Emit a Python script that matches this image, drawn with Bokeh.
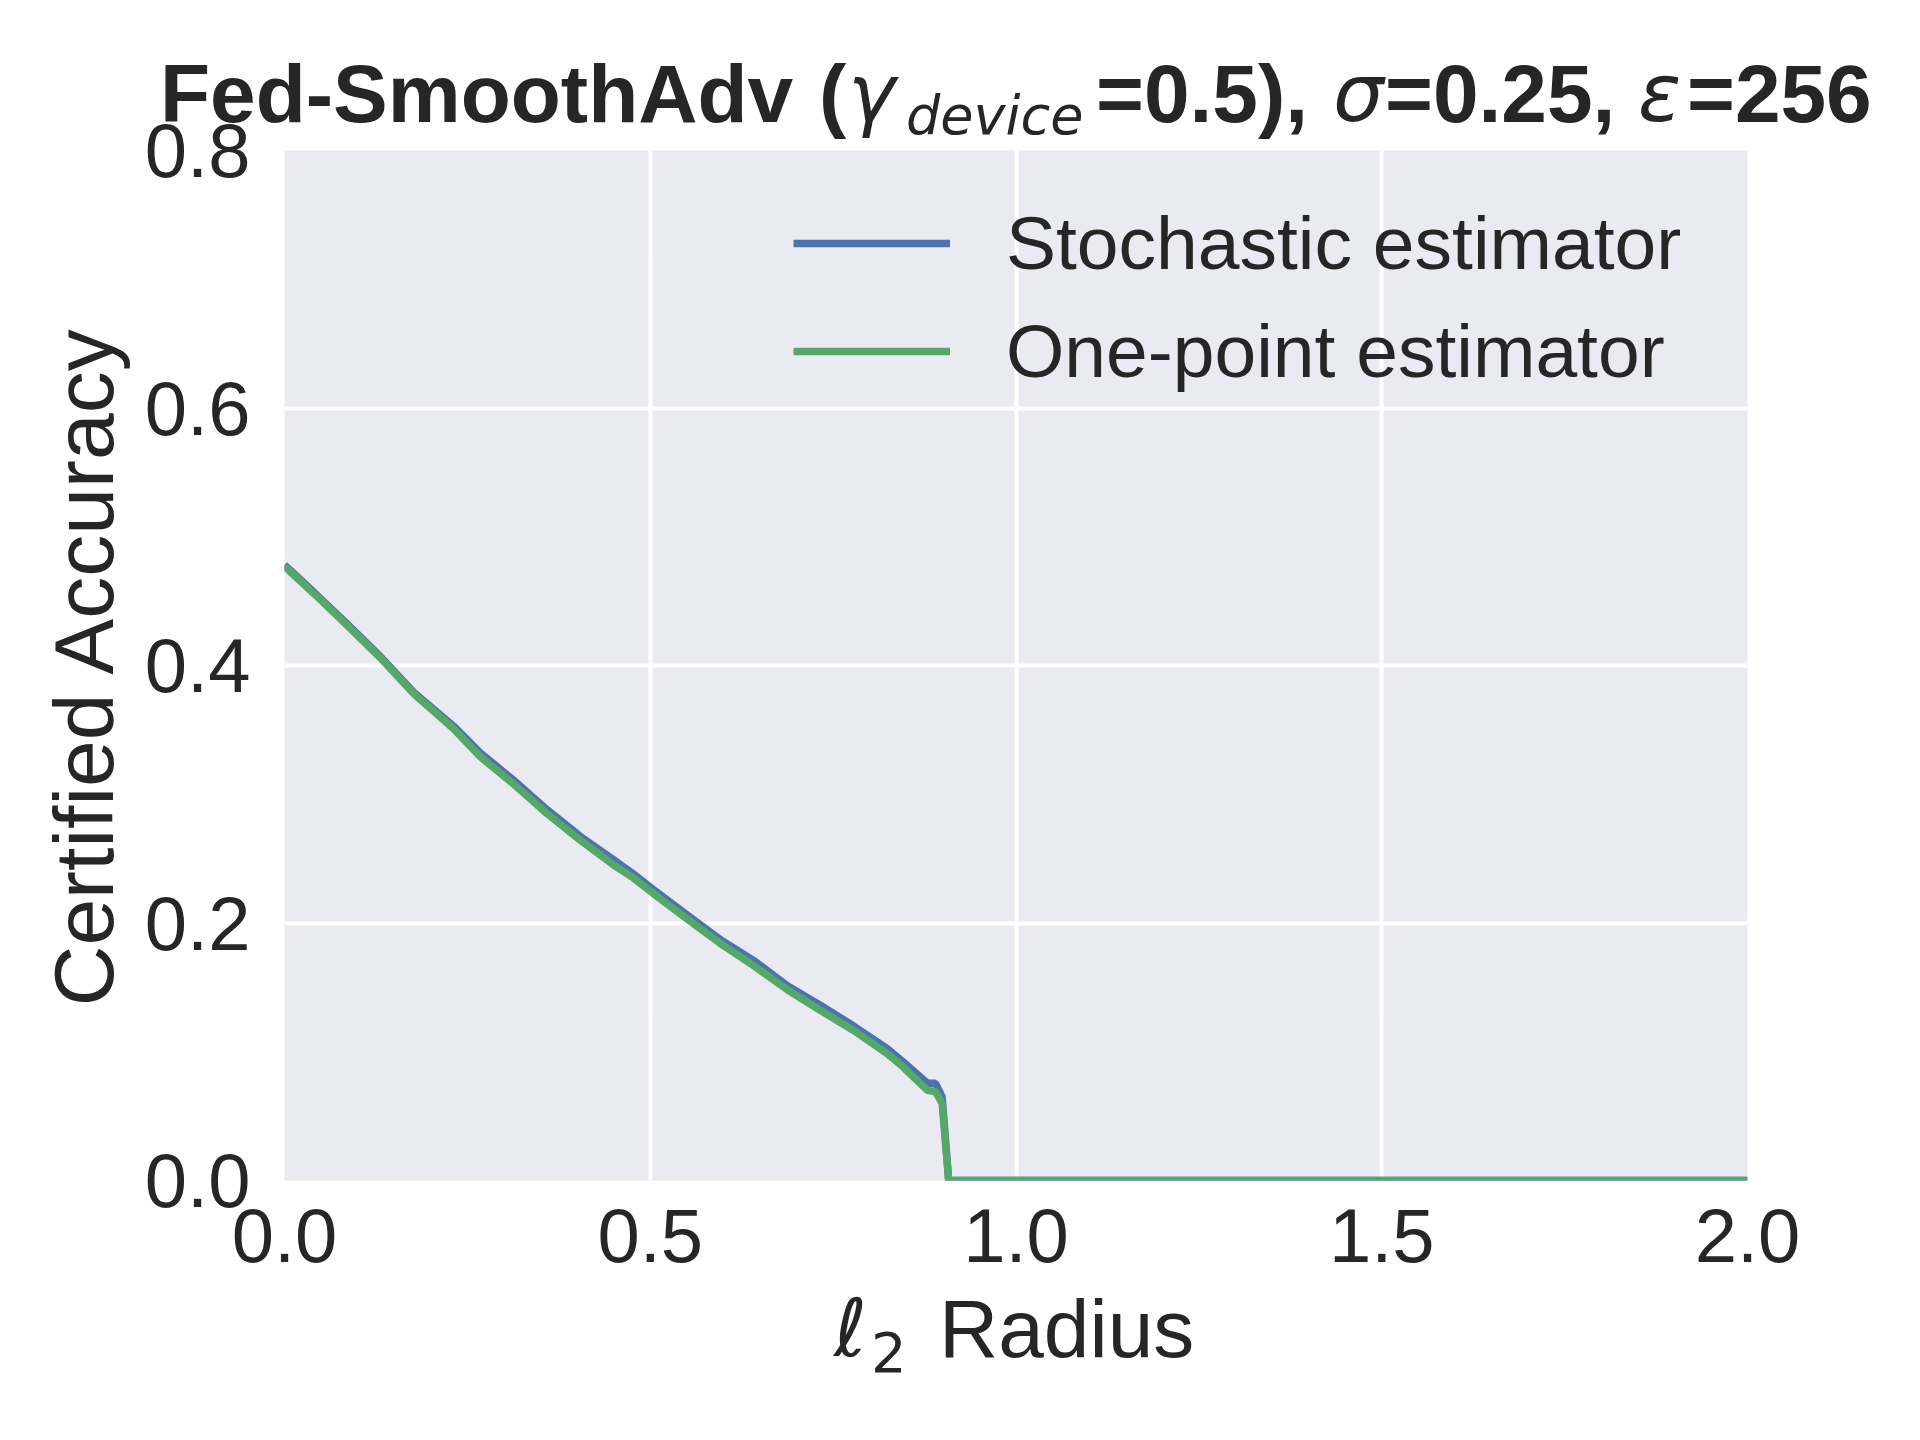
from bokeh.plotting import figure
from bokeh.models import Range1d, FixedTicker, Div
from bokeh.layouts import column
from bokeh.embed import file_html
from bokeh.resources import INLINE

# ---- data ----
radius = [0.0, 0.04, 0.086, 0.131, 0.177, 0.231, 0.268, 0.313, 0.359, 0.405,
          0.45, 0.477, 0.504, 0.551, 0.596, 0.641, 0.688, 0.733, 0.778, 0.824,
          0.846, 0.879, 0.89, 0.899, 0.908, 2.0]
stochastic = [0.478, 0.457, 0.432, 0.407, 0.379, 0.353, 0.332, 0.311, 0.288, 0.267,
              0.249, 0.238, 0.226, 0.206, 0.187, 0.171, 0.151, 0.136, 0.120, 0.1025,
              0.092, 0.0755, 0.0755, 0.065, 0.0, 0.0]
one_point = [0.477, 0.456, 0.431, 0.406, 0.378, 0.351, 0.329, 0.308, 0.285, 0.264,
             0.245, 0.235, 0.223, 0.203, 0.184, 0.167, 0.148, 0.132, 0.1165, 0.0985,
             0.088, 0.070, 0.069, 0.060, 0.0, 0.0]
series_names = ["Stochastic estimator", "One-point estimator"]
x_ticks = [0.0, 0.5, 1.0, 1.5, 2.0]
x_tick_labels = ["0.0", "0.5", "1.0", "1.5", "2.0"]
y_ticks = [0.0, 0.2, 0.4, 0.6, 0.8]
y_tick_labels = ["0.0", "0.2", "0.4", "0.6", "0.8"]

BLUE = "#4C72B0"
GREEN = "#55A868"
TXT = "#262626"
SANS = "Liberation Sans"
MATH = "DejaVu Sans"
W = 1904


def span(txt, left, top, font, size, weight="normal", style="normal"):
    return (f'<span style="position:absolute;left:{left}px;top:{top}px;'
            f"font-family:'{font}';font-size:{size}px;line-height:1;"
            f'font-weight:{weight};font-style:{style};color:{TXT};white-space:nowrap;">'
            f'{txt}</span>')


def strip(parts, height):
    html = (f'<div style="position:relative;width:{W}px;height:{height}px;overflow:visible;">'
            + "".join(parts) + '</div>')
    return Div(text=html, width=W, height=height, margin=0,
               styles={"overflow": "visible"})


# ---- title ----
title_div = strip([
    span("Fed-SmoothAdv", 160, 53, SANS, 82, weight="bold"),
    span("(", 819, 53, SANS, 82, weight="bold"),
    span("\u03b3", 848, 54, MATH, 80, style="italic"),
    span("device", 906, 89, MATH, 54, style="italic"),
    span("=0.5),", 1096, 53, SANS, 82, weight="bold"),
    span("\u03c3", 1333, 54, MATH, 80, style="italic"),
    span("=0.25,", 1385, 53, SANS, 82, weight="bold"),
    span("\u03b5", 1638, 54, MATH, 80, style="italic"),
    span("=256", 1687, 53, SANS, 82, weight="bold"),
], 150)

# ---- main plot (overlaps the title strip by its transparent top border) ----
p = figure(width=W, height=1193, x_range=Range1d(0, 2), y_range=Range1d(0, 0.8),
           output_backend="svg", toolbar_location=None, title=None,
           min_border_left=284, min_border_right=157,
           min_border_top=45, min_border_bottom=118,
           margin=(-45, 0, 0, 0))
p.background_fill_color = "#EAEAF2"
p.border_fill_alpha = 0
p.outline_line_color = None

p.line(radius, stochastic, line_color=BLUE, line_width=7.5, legend_label=series_names[0])
p.line(radius, one_point, line_color=GREEN, line_width=7.5, legend_label=series_names[1])

for ax in (p.xaxis[0], p.yaxis[0]):
    ax.axis_line_color = None
    ax.major_tick_line_color = None
    ax.minor_tick_line_color = None
    ax.major_tick_out = 0
    ax.major_tick_in = 0
    ax.minor_tick_out = 0
    ax.minor_tick_in = 0
    ax.major_label_text_font = SANS
    ax.major_label_text_font_size = "76px"
    ax.major_label_text_color = TXT

p.xaxis[0].ticker = FixedTicker(ticks=x_ticks)
p.xaxis[0].major_label_overrides = dict(zip(x_ticks, x_tick_labels))
p.xaxis[0].major_label_standoff = 28
p.yaxis[0].ticker = FixedTicker(ticks=y_ticks)
p.yaxis[0].major_label_overrides = dict(zip(y_ticks, y_tick_labels))
p.yaxis[0].major_label_standoff = 34

p.yaxis[0].axis_label = "Certified Accuracy"
p.yaxis[0].axis_label_text_font = SANS
p.yaxis[0].axis_label_text_font_size = "84px"
p.yaxis[0].axis_label_text_font_style = "normal"
p.yaxis[0].axis_label_text_color = TXT
p.yaxis[0].axis_label_standoff = 11

p.xgrid.ticker = FixedTicker(ticks=x_ticks)
p.ygrid.ticker = FixedTicker(ticks=y_ticks)
for g in (p.xgrid[0], p.ygrid[0]):
    g.grid_line_color = "white"
    g.grid_line_width = 4

lg = p.legend[0]
lg.location = (509, 775)
lg.background_fill_alpha = 0
lg.border_line_color = None
lg.padding = 0
lg.margin = 0
lg.spacing = 0
lg.glyph_width = 157
lg.glyph_height = 108
lg.label_standoff = 56
lg.label_text_font = SANS
lg.label_text_font_size = "75px"
lg.label_text_color = TXT

# ---- x label ----
xlabel_div = strip([
    span("\u2113", 834, -9, MATH, 80, style="italic"),
    span("2", 871, 27, MATH, 56),
    span("Radius", 939, -10, SANS, 82),
], 126)

layout = column(title_div, p, xlabel_div, spacing=0)
open("out.html", "w").write(file_html(layout, INLINE))
